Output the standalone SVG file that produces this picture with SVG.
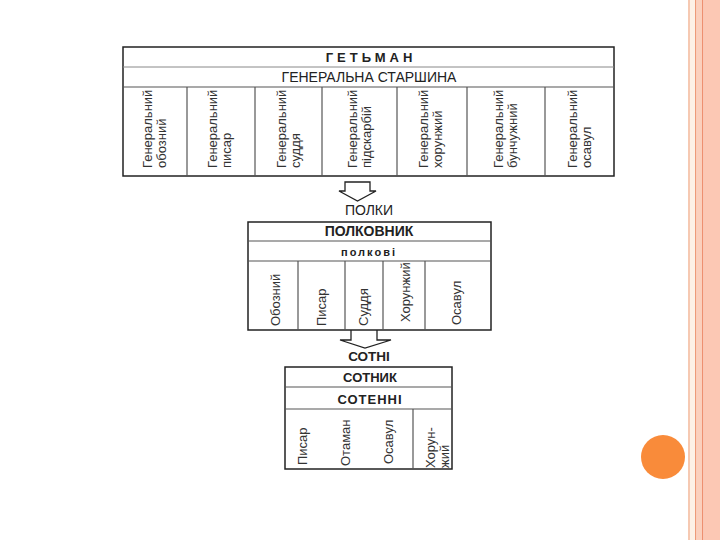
<svg xmlns="http://www.w3.org/2000/svg" width="720" height="540" viewBox="0 0 720 540">
<style>
.box{fill:#fff;stroke:#222;stroke-width:1.5}
.sep{stroke:#555;stroke-width:1.2}
.lt{stroke:#888;stroke-width:1}
.t{font-family:"Liberation Sans",Arial,sans-serif;fill:#222}
.v{font-family:"Liberation Sans",Arial,sans-serif;font-size:13px;fill:#333}
.arr{fill:#fff;stroke:#222;stroke-width:1.3}
</style>
<rect width="720" height="540" fill="#fff"/>
<g id="border">
<rect x="688" y="0" width="2" height="540" fill="#f6c9b2"/>
<rect x="690" y="0" width="5" height="540" fill="#fdf1e6"/>
<rect x="695" y="0" width="1.5" height="540" fill="#ee9a78"/>
<rect x="696.5" y="0" width="5.5" height="540" fill="#fbd0bd"/>
<rect x="702" y="0" width="1.5" height="540" fill="#ee9070"/>
<rect x="703.5" y="0" width="16.5" height="540" fill="#fcc8b4"/>
<circle cx="663" cy="457" r="22" fill="#f98b3a"/>
</g>
<g id="hetman">
<rect class="box" x="123" y="47" width="491" height="129"/>
<line class="lt" x1="123" y1="67" x2="614" y2="67"/>
<line class="sep" x1="123" y1="87" x2="614" y2="87"/>
<line class="sep" x1="187" y1="87" x2="187" y2="176"/>
<line class="sep" x1="255" y1="87" x2="255" y2="176"/>
<line class="sep" x1="322" y1="87" x2="322" y2="176"/>
<line class="sep" x1="397" y1="87" x2="397" y2="176"/>
<line class="sep" x1="467" y1="87" x2="467" y2="176"/>
<line class="sep" x1="545" y1="87" x2="545" y2="176"/>
<text class="t" x="371" y="62" font-size="13" font-weight="bold" letter-spacing="4" text-anchor="middle">ГЕТЬМАН</text>
<text class="t" x="369" y="82" font-size="14" text-anchor="middle">ГЕНЕРАЛЬНА СТАРШИНА</text>
<text class="v" transform="translate(152,168) rotate(-90)">Генеральний</text>
<text class="v" transform="translate(166,168) rotate(-90)">обозний</text>
<text class="v" transform="translate(217,168) rotate(-90)">Генеральний</text>
<text class="v" transform="translate(231,168) rotate(-90)">писар</text>
<text class="v" transform="translate(286,168) rotate(-90)">Генеральний</text>
<text class="v" transform="translate(300,168) rotate(-90)">суддя</text>
<text class="v" transform="translate(357,168) rotate(-90)">Генеральний</text>
<text class="v" transform="translate(371,168) rotate(-90)">підскарбій</text>
<text class="v" transform="translate(428,168) rotate(-90)">Генеральний</text>
<text class="v" transform="translate(442,168) rotate(-90)">хорунжий</text>
<text class="v" transform="translate(503,168) rotate(-90)">Генеральний</text>
<text class="v" transform="translate(517,168) rotate(-90)">бунчужний</text>
<text class="v" transform="translate(577,168) rotate(-90)">Генеральний</text>
<text class="v" transform="translate(591,168) rotate(-90)">осавул</text>
</g>
<g id="connectors">
<path class="arr" d="M345,182 V191 H339 L357.5,201 L376,191 H370 V182 Z"/>
<path class="arr" d="M351,330 V340 H340 L365,348 L391,340 H377 V330"/>
</g>
<g id="polky">
<text class="t" x="369" y="215" font-size="14" text-anchor="middle">ПОЛКИ</text>
<rect class="box" x="248" y="222" width="243" height="108"/>
<line class="sep" x1="248" y1="241" x2="491" y2="241"/>
<line class="sep" x1="248" y1="261" x2="491" y2="261"/>
<line class="sep" x1="298" y1="261" x2="298" y2="330"/>
<line class="sep" x1="345" y1="261" x2="345" y2="330"/>
<line class="sep" x1="383" y1="261" x2="383" y2="330"/>
<line class="sep" x1="425" y1="261" x2="425" y2="330"/>
<text class="t" x="369" y="236" font-size="14" font-weight="bold" text-anchor="middle">ПОЛКОВНИК</text>
<text class="t" x="369" y="256" font-size="11" font-weight="bold" letter-spacing="2" text-anchor="middle">полкові</text>
<text class="v" transform="translate(280,326) rotate(-90)">Обозний</text>
<text class="v" transform="translate(326,326) rotate(-90)">Писар</text>
<text class="v" transform="translate(368,326) rotate(-90)">Суддя</text>
<text class="v" transform="translate(410,322) rotate(-90)">Хорунжий</text>
<text class="v" transform="translate(461,325) rotate(-90)">Осавул</text>
</g>
<g id="sotni">
<text class="t" x="369" y="361" font-size="13.5" font-weight="bold" text-anchor="middle">СОТНІ</text>
<rect class="box" x="285" y="367" width="167" height="102"/>
<line class="sep" x1="285" y1="387" x2="452" y2="387"/>
<line class="sep" x1="285" y1="409" x2="452" y2="409"/>
<line class="sep" x1="413" y1="409" x2="413" y2="469"/>
<text class="t" x="370" y="382" font-size="13" font-weight="bold" text-anchor="middle">СОТНИК</text>
<text class="t" x="370" y="404" font-size="13" font-weight="bold" letter-spacing="1" text-anchor="middle">СОТЕННІ</text>
<text class="v" transform="translate(307,465) rotate(-90)">Писар</text>
<text class="v" transform="translate(350,466) rotate(-90)">Отаман</text>
<text class="v" transform="translate(393,464) rotate(-90)">Осавул</text>
<text class="v" transform="translate(435,468) rotate(-90)">Хорун-</text>
<text class="v" transform="translate(449,468) rotate(-90)">жий</text>
</g>
</svg>
